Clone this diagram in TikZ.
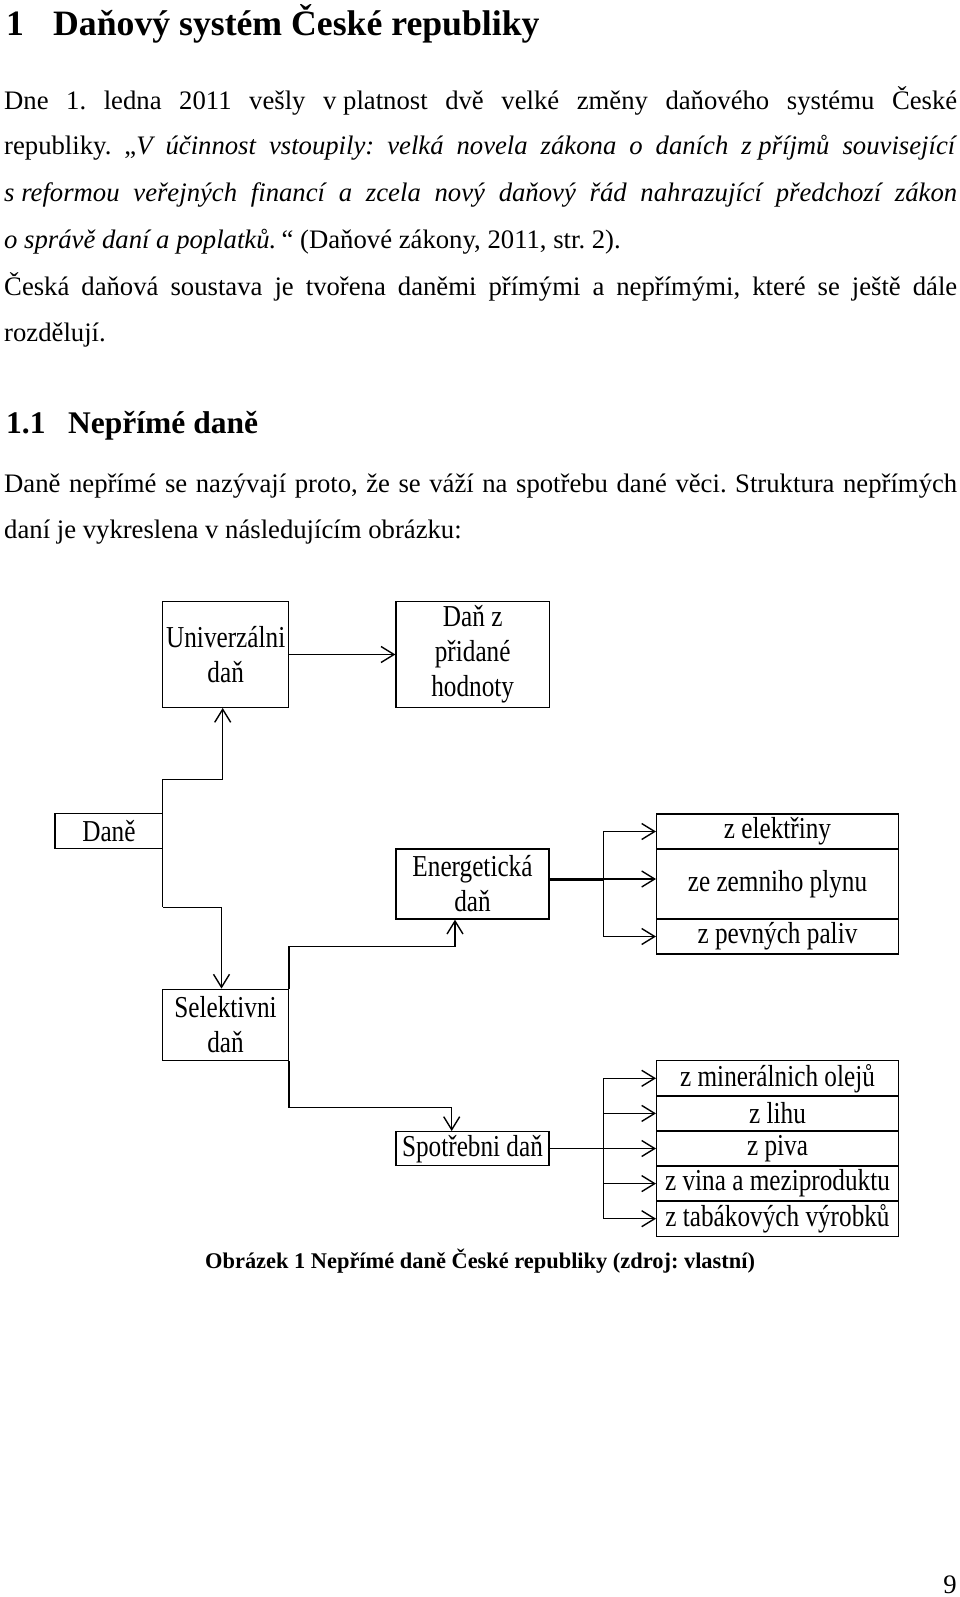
\documentclass[tikz,border=0pt]{standalone}
\usepackage{fontspec}
\setmainfont{Liberation Serif}
\newfontfamily\diagfont[FakeStretch=0.83]{Liberation Serif}
\usetikzlibrary{arrows.meta}
\frenchspacing

\newcommand{\bodysize}{\fontsize{26.7pt}{46.5pt}\selectfont}
\newcommand{\diagsize}{\diagfont\fontsize{30.4pt}{35pt}\selectfont}

\begin{document}
\begin{tikzpicture}[x=1pt,y=-1pt,
    box/.style={draw, line width=1.4pt, inner sep=0pt, font=\diagsize, align=center},
    conn/.style={line width=1.4pt},
    arr/.style={conn, -{Straight Barb[length=13pt,width=16pt]}},
    txt/.style={anchor=base west, inner sep=0pt, font=\bodysize}]
      \fill[white] (0,0) rectangle (960,1597);
      \useasboundingbox (0,0) rectangle (960,1597);

      % text of the page
      \node[txt, font=\fontsize{35.7pt}{40pt}\selectfont\bfseries] (head) at (6,36)
        {\makebox[47pt][l]{1}Daňový systém České republiky};
      \node[txt] (l1) at (4,109.3) {\makebox[953pt][s]{Dne 1. ledna 2011 vešly v\kern.25em platnost dvě velké změny daňového systému České}};
      \node[txt] (l2) at (4,155) {\makebox[953pt][s]{republiky. „\textit{V účinnost vstoupily: velká novela zákona o daních z\kern.25em příjmů související}}};
      \node[txt] (l3) at (4,201.7) {\makebox[953pt][s]{\textit{s\kern.25em reformou veřejných financí a zcela nový daňový řád nahrazující předchozí zákon}}};
      \node[txt] (l4) at (4,248.3) {\textit{o\kern.25em správě daní a poplatků.}\kern.2em“ (Daňové zákony, 2011, str. 2).};
      \node[txt] (l5) at (4,295) {\makebox[953pt][s]{Česká daňová soustava je tvořena daněmi přímými a nepřímými, které se ještě dále}};
      \node[txt] (l6) at (4,341.7) {rozdělují.};
      \node[txt, font=\fontsize{31.5pt}{38pt}\selectfont\bfseries] (subhead) at (6,433.3)
        {\makebox[62pt][l]{1.1}Nepřímé daně};
      \node[txt] (l7) at (4,492.3) {\makebox[953pt][s]{Daně nepřímé se nazývají proto, že se váží na spotřebu dané věci. Struktura nepřímých}};
      \node[txt] (l8) at (4,538.3) {daní je vykreslena v následujícím obrázku:};

      % boxes
      \node[box, minimum width=126pt, minimum height=105.6pt] (univ) at (225.7,654.5) {Univerzálni\\daň};
      \node[box, minimum width=153.3pt, minimum height=105.6pt] (dph) at (472.7,654.5) {Daň z\\přidané\\hodnoty};
      \node[box, minimum width=107.7pt, minimum height=35.4pt] (dane) at (108.9,831) {Daně};
      \node[box, minimum width=153pt, minimum height=70pt] (energ) at (472.5,884) {Energetická\\daň};
      \node[box, minimum width=125.6pt, minimum height=71.4pt] (selekt) at (225.5,1025) {Selektivni\\daň};
      \node[box, minimum width=153pt, minimum height=34pt] (spotr) at (472.5,1148.7) {Spotřebni daň};

      \node[box, minimum width=241.6pt, minimum height=35pt] (elek) at (777.5,831.5) {z elektřiny};
      \node[box, minimum width=241.6pt, minimum height=70pt] (zemni) at (777.5,884) {ze zemniho plynu};
      \node[box, minimum width=241.6pt, minimum height=35pt] (pevna) at (777.5,936.5) {z pevných paliv};

      \node[box, minimum width=241.6pt, minimum height=35.1pt] (miner) at (777.5,1078.3) {z minerálnich olejů};
      \node[box, minimum width=241.6pt, minimum height=35.1pt] (lih) at (777.5,1113.4) {z lihu};
      \node[box, minimum width=241.6pt, minimum height=35.1pt] (pivo) at (777.5,1148.5) {z piva};
      \node[box, minimum width=241.6pt, minimum height=35.1pt] (vino) at (777.5,1183.6) {z vina a meziproduktu};
      \node[box, minimum width=241.6pt, minimum height=35.1pt] (tabak) at (777.5,1218.7) {z tabákových výrobků};

      % connectors
      \coordinate (dtop) at (162.7,779.3);
      \coordinate (dbot) at (162.7,907.3);
      \draw[conn] (dtop) -- (dbot);
      \draw[arr] (dtop) -| ([xshift=-3pt]univ.south);
      \draw[arr] (dbot) -| ([xshift=-4pt]selekt.north);
      \draw[arr] (univ.east |- dph.west) -- (dph.west);

      \coordinate (ebend) at (455,946.7);
      \coordinate (sbend) at (451.7,1107.7);
      \draw[arr] (selekt.north east) |- (ebend) -- (ebend |- energ.south);
      \draw[arr] (selekt.south east) |- (sbend) -- (sbend |- spotr.north);

      \coordinate (ebr) at (603.3,879);
      \draw[line width=3pt] ([yshift=5pt]energ.east) -- (ebr);
      \draw[conn] (ebr |- elek.west) -- (ebr |- pevna.west);
      \draw[arr] (ebr) -- (ebr -| zemni.west);
      \foreach \t in {elek, pevna}
        \draw[arr] (ebr |- \t.west) -- (\t.west);

      \coordinate (sbr) at (603.3,1148.7);
      \draw[conn] (spotr.east) -- (sbr);
      \draw[conn] (sbr |- miner.west) -- (sbr |- tabak.west);
      \foreach \t in {miner, lih, pivo, vino, tabak}
        \draw[arr] (sbr |- \t.west) -- (\t.west);

      % caption and page number
      \node[txt, font=\fontsize{22.4pt}{26pt}\selectfont\bfseries] (capt) at (205,1268.5)
        {Obrázek 1 Nepřímé daně České republiky (zdroj: vlastní)};
      \node[txt, anchor=base east] (pnum) at (957,1593) {9};

    \end{tikzpicture}
\end{document}
